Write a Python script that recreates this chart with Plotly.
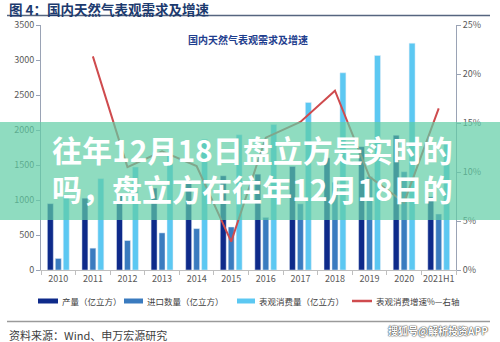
import plotly.graph_objects as go

years = ['2010', '2011', '2012', '2013', '2014', '2015', '2016', '2017', '2018', '2019', '2020', '2021H1']
production = [948, 1026, 1072, 1171, 1280, 1346, 1369, 1480, 1603, 1762, 1925, 1045]
imports = [165, 312, 421, 530, 591, 614, 752, 946, 1254, 1333, 1404, 800]
consumption = [1075, 1305, 1471, 1676, 1868, 1932, 2078, 2394, 2817, 3064, 3240, 1830]
growth = [None, 21.8, 10.5, 12.1, 10.6, 2.9, 13.5, 15.1, 18.3, 9.5, 6.9, 16.5]

left_ticks = [0, 500, 1000, 1500, 2000, 2500, 3000, 3500]
right_ticks = [0, 5, 10, 15, 20, 25]
right_labels = ['0%', '5%', '10%', '15%', '20%', '25%']

C_PROD = '#0E2A8A'
C_IMP = '#3A7BBF'
C_CONS = '#5CC8F2'
C_LINE = '#CF4B4E'
FONT = 'Noto Sans CJK SC'

W, H = 500, 342
PL, PR, PT, PB = 41, 456, 25, 270


def px(x):
    return (x - PL) / (PR - PL)


def py(y):
    return (PB - y) / (PB - PT)


fig = go.Figure()
fig.add_trace(go.Bar(x=years, y=production, name='产量（亿立方）', marker_color=C_PROD))
fig.add_trace(go.Bar(x=years, y=imports, name='进口数量（亿立方）', marker_color=C_IMP))
fig.add_trace(go.Bar(x=years, y=consumption, name='表观消费量（亿立方）', marker_color=C_CONS))
fig.add_trace(go.Scatter(x=years, y=growth, name='表观消费增速%—右轴', mode='lines',
                         line=dict(color=C_LINE, width=2), yaxis='y2', connectgaps=False))

shapes = []
annotations = []

# header
annotations.append(dict(x=px(7), y=py(8.5), xref='paper', yref='paper', xanchor='left', yanchor='middle',
                        text='<b>图 4：国内天然气表观需求及增速</b>', showarrow=False,
                        font=dict(family=FONT, size=13.5, color='#1C3A6E')))
shapes.append(dict(type='line', xref='paper', yref='paper', x0=px(7), x1=px(490), y0=py(15.5), y1=py(15.5),
                   line=dict(color='#56657F', width=1.5)))
# chart title
annotations.append(dict(x=px(248), y=py(40), xref='paper', yref='paper', xanchor='center', yanchor='middle',
                        text='<b>国内天然气表观需求及增速</b>', showarrow=False,
                        font=dict(family=FONT, size=10, color='#1F3E8E')))

# custom legend
leg_y = 301
legend_items = [
    (38, 58, C_PROD, '产量（亿立方）', 'bar'),
    (124, 143, C_IMP, '进口数量（亿立方）', 'bar'),
    (237, 255, C_CONS, '表观消费量（亿立方）', 'bar'),
    (352, 372, C_LINE, '表观消费增速%—右轴', 'line'),
]
for x0, x1, col, label, kind in legend_items:
    if kind == 'bar':
        shapes.append(dict(type='rect', xref='paper', yref='paper', x0=px(x0), x1=px(x1),
                           y0=py(leg_y + 2.5), y1=py(leg_y - 2.5), fillcolor=col, line=dict(width=0)))
    else:
        shapes.append(dict(type='line', xref='paper', yref='paper', x0=px(x0), x1=px(x1),
                           y0=py(leg_y), y1=py(leg_y), line=dict(color=col, width=2.5)))
    annotations.append(dict(x=px(x1 + 1.5), y=py(leg_y), xref='paper', yref='paper', xanchor='left',
                            yanchor='middle', text=label, showarrow=False,
                            font=dict(family=FONT, size=8.5, color='#404040')))

# bottom separator and source
shapes.append(dict(type='line', xref='paper', yref='paper', x0=px(7), x1=px(490), y0=py(321.5), y1=py(321.5),
                   line=dict(color='#9A9A9A', width=1.5)))
annotations.append(dict(x=px(7), y=py(335), xref='paper', yref='paper', xanchor='left', yanchor='middle',
                        text='资料来源：Wind、申万宏源研究', showarrow=False,
                        font=dict(family=FONT, size=11, color='#404040')))
annotations.append(dict(x=px(490), y=py(330), xref='paper', yref='paper', xanchor='right', yanchor='middle',
                        text='<b>搜狐号@解析投资APP</b>', showarrow=False,
                        font=dict(family=FONT, size=10, color='#FFFFFF',
                                  shadow='0px 0px 1.5px #222, 0px 0px 1px #222')))

# overlay banner
shapes.append(dict(type='rect', xref='paper', yref='paper', x0=px(0), x1=px(W), y0=py(220), y1=py(122),
                   fillcolor='rgba(95,205,165,0.70)', line=dict(width=0), layer='above'))
annotations.append(dict(x=px(50), y=py(168.5), xref='paper', yref='paper', xanchor='left', yanchor='middle',
                        align='left',
                        text='<b>往年12月18日盘立方是实时的<br>吗，盘立方在往年12月18日的</b>', showarrow=False,
                        font=dict(family=FONT, size=30, color='#FFFFFF')))

fig.update_layout(
    width=W, height=H,
    margin=dict(l=PL, r=W - PR, t=PT, b=H - PB, pad=0),
    paper_bgcolor='white', plot_bgcolor='white',
    barmode='group', bargap=0.31, bargroupgap=0.25,
    showlegend=False,
    font=dict(family=FONT, size=9, color='#595959'),
    xaxis=dict(type='category', showline=True, linecolor='#BFBFBF', linewidth=1,
               ticks='outside', tickson='boundaries', ticklen=4, tickcolor='#BFBFBF', tickangle=0,
               tickfont=dict(size=9, color='#595959'), showgrid=False),
    yaxis=dict(range=[0, 3500], tickvals=left_ticks, showline=True, linecolor='#9AA3B5', linewidth=1,
               ticks='outside', ticklen=4, tickcolor='#9AA3B5', showgrid=False, zeroline=False,
               tickfont=dict(size=9, color='#595959')),
    yaxis2=dict(range=[0, 25], tickvals=right_ticks, ticktext=right_labels, overlaying='y', side='right',
                showline=True, linecolor='#9AA3B5', linewidth=1, ticks='outside', ticklen=4,
                tickcolor='#9AA3B5', showgrid=False, zeroline=False,
                tickfont=dict(size=9, color='#595959')),
    shapes=shapes, annotations=annotations,
)

fig.write_html('out.html')
